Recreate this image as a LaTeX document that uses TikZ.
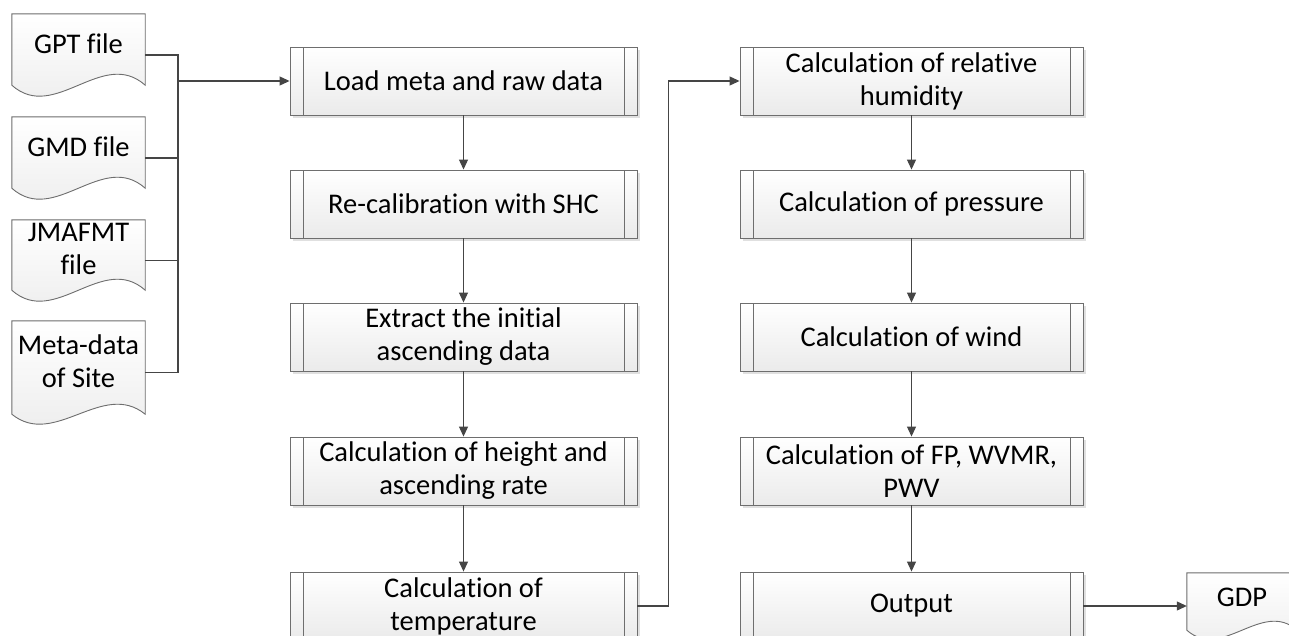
\documentclass[tikz,border=0pt]{standalone}
\usepackage{fontspec}
\setmainfont{Carlito}[Ligatures=CommonOff]
\usetikzlibrary{arrows.meta,calc,shadows}

\definecolor{edge}{HTML}{6E6E6E}
\definecolor{wire}{HTML}{454545}

\tikzset{
  txt/.style={font=\fontsize{28.5}{33}\selectfont, align=center, inner sep=0pt},
  procbox/.style={txt, rectangle, draw=edge, line width=0.9pt,
    top color=white, bottom color=gray!16, minimum height=68pt,
    drop shadow={shadow xshift=2.5pt, shadow yshift=-2.5pt, fill=black, opacity=0.12},
    path picture={
      \draw[edge, line width=0.9pt]
        ([xshift=13pt]path picture bounding box.north west) --
        ([xshift=13pt]path picture bounding box.south west)
        ([xshift=-13pt]path picture bounding box.north east) --
        ([xshift=-13pt]path picture bounding box.south east);}},
  colA/.style={procbox, minimum width=347pt},
  colB/.style={procbox, minimum width=343pt},
  docframe/.style={rectangle, inner sep=0pt, minimum width=133pt},
  doctext/.style={txt},
  wireline/.style={draw=wire, line width=1.1pt},
  arr/.style={wireline, -{Triangle[length=10pt,width=9pt]}},
}

% document symbol with a wavy lower edge, drawn around a framing node
% #1 = node name, #2 = wave amplitude (pt)
\newcommand\docoutline[2]{%
  \def\docpath{(#1.north west) -- (#1.north east)
    -- ($(#1.south east)+(0,#2pt)$)
    .. controls ($(#1.south east)!0.32!(#1.south west)+(0,4.46*#2pt)$)
    and ($(#1.south west)!0.32!(#1.south east)+(0,-2.46*#2pt)$)
    .. ($(#1.south west)+(0,#2pt)$) -- cycle}%
  \fill[black, opacity=0.12, shift={(2.5pt,-2.5pt)}] \docpath;
  \path[draw=edge, line width=0.9pt, top color=white, bottom color=gray!16] \docpath;
}

\begin{document}
\begin{tikzpicture}[x=1pt, y=-1pt]
\useasboundingbox (0,0) rectangle (1289,635);
\clip (0,0) rectangle (1289,635);

% input files
\node[docframe, minimum height=82pt]  (gpt)  at (78.5,55)    {};
\node[docframe, minimum height=82pt]  (gmd)  at (78.5,158)   {};
\node[docframe, minimum height=81pt]  (jma)  at (78.5,260.5) {};
\node[docframe, minimum height=103pt] (meta) at (78.5,372.5) {};
\docoutline{gpt}{11}
\docoutline{gmd}{11}
\docoutline{jma}{11}
\docoutline{meta}{10}
\node[doctext] (gpt-t)  at ([yshift=11pt]gpt.center)  {GPT file};
\node[doctext] (gmd-t)  at ([yshift=11pt]gmd.center)  {GMD file};
\node[doctext] (jma-t)  at ([yshift=12pt]jma.center)  {JMAFMT\\file};
\node[doctext] (meta-t) at ([yshift=11pt]meta.center) {Meta-data\\of Site};

% first processing column
\node[colA] (load)    at (463.5,81)  {Load meta and raw data};
\node[colA] (recal)   at (463.5,204) {Re-calibration with SHC};
\node[colA] (extract) at (463.5,337) {Extract the initial\\ascending data};
\node[colA] (height)  at (463.5,471) {Calculation of height and\\ascending rate};
\node[colA] (temp)    at (463.5,606) {Calculation of\\temperature};

% second processing column
\node[colB] (hum)  at (911.5,81)  {Calculation of relative\\humidity};
\node[colB] (pres) at (911.5,204) {Calculation of pressure};
\node[colB] (wind) at (911.5,337) {Calculation of wind};
\node[colB] (fp)   at (911.5,471) {Calculation of FP, WVMR,\\PWV};
\node[colB] (out)  at (911.5,606) {Output};

% output file
\node[docframe, minimum width=110pt, minimum height=66pt] (gdp) at (1242,606) {};
\docoutline{gdp}{9}
\node[doctext] (gdp-t) at ([yshift=9pt]gdp.center) {GDP};

% collecting bus from the input files
\coordinate (bus) at (178,55);
\draw[wireline] (gpt.east) -- (gpt.east -| bus) -- (meta.east -| bus) -- (meta.east);
\draw[wireline] (gmd.east) -- (gmd.east -| bus);
\draw[wireline] (jma.east) -- (jma.east -| bus);
\draw[arr] (load.west -| bus) -- (load.west);

% flow
\draw[arr] (load) -- (recal);
\draw[arr] (recal) -- (extract);
\draw[arr] (extract) -- (height);
\draw[arr] (height) -- (temp);
\draw[arr] (temp.east) -- ++(31,0) |- (hum.west);
\draw[arr] (hum) -- (pres);
\draw[arr] (pres) -- (wind);
\draw[arr] (wind) -- (fp);
\draw[arr] (fp) -- (out);
\draw[arr] (out.east) -- (gdp.west);
\end{tikzpicture}
\end{document}
